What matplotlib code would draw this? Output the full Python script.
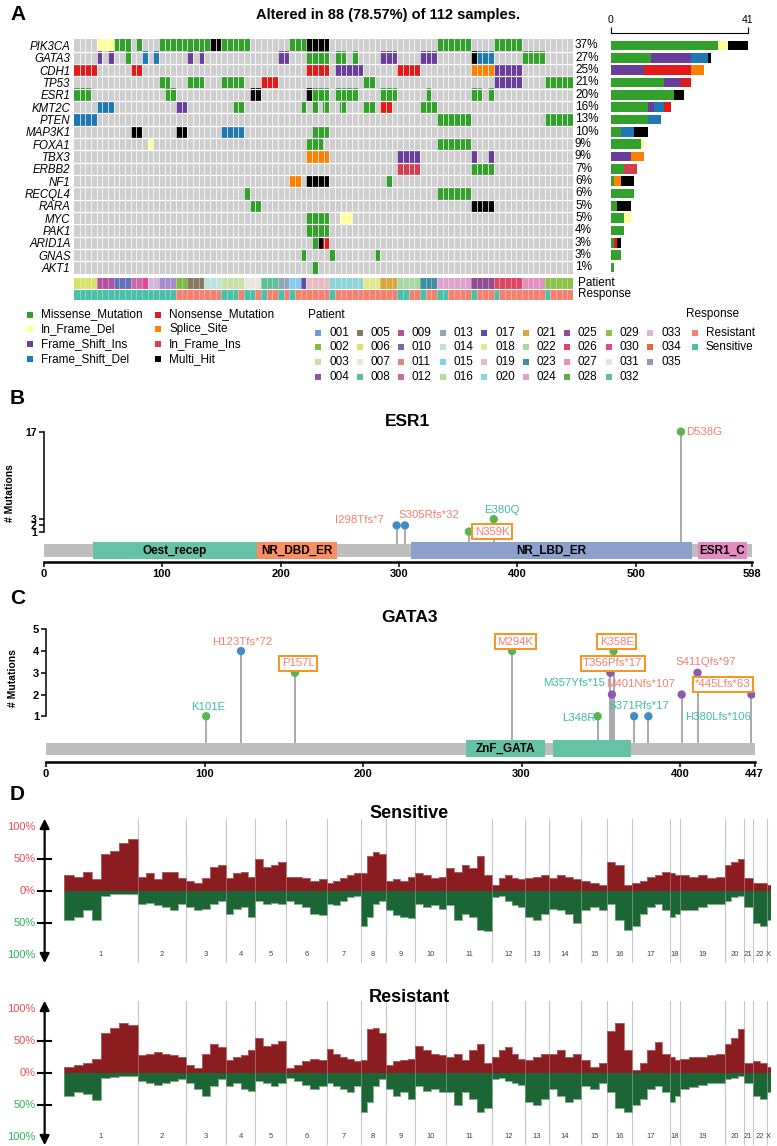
import matplotlib
matplotlib.use('Agg')
import matplotlib.pyplot as plt
import numpy as np
from matplotlib.colors import to_rgb
from matplotlib.patches import Rectangle

W, H = 777, 1146
plt.rcParams['font.family'] = ['Liberation Sans', 'DejaVu Sans']
NARROW = ['Liberation Sans Narrow', 'Liberation Sans', 'DejaVu Sans']

# ---------------- panel A: oncoplot data ----------------
genes = ['PIK3CA', 'GATA3', 'CDH1', 'TP53', 'ESR1', 'KMT2C', 'PTEN', 'MAP3K1', 'FOXA1',
         'TBX3', 'ERBB2', 'NF1', 'RECQL4', 'RARA', 'MYC', 'PAK1', 'ARID1A', 'GNAS', 'AKT1']
n_total = 112
n_altered = 88

# codes: M missense, N nonsense, d in-frame del, i in-frame ins, s splice site,
#        F frame-shift ins, f frame-shift del, H multi hit
# (first sample, last sample, code)
mut_runs = {
    'PIK3CA': [(4, 6, 'd'), (7, 9, 'M'), (11, 11, 'M'), (15, 23, 'M'), (24, 25, 'H'), (26, 30, 'M'),
               (38, 40, 'M'), (41, 44, 'H'), (64, 69, 'M'), (74, 78, 'M')],
    'GATA3': [(4, 4, 'F'), (6, 6, 'F'), (9, 9, 'M'), (12, 12, 'f'), (14, 14, 'f'), (20, 20, 'F'),
              (22, 22, 'F'), (36, 37, 'F'), (41, 44, 'M'), (46, 47, 'M'), (49, 49, 'M'), (54, 56, 'F'),
              (61, 63, 'F'), (70, 70, 'H'), (71, 73, 'f'), (79, 82, 'M')],
    'CDH1': [(0, 3, 'N'), (10, 11, 'N'), (41, 44, 'N'), (46, 50, 'F'), (57, 60, 'N'), (70, 73, 's'),
             (74, 78, 'F')],
    'TP53': [(15, 16, 'M'), (20, 22, 'M'), (26, 29, 'M'), (33, 35, 'N'), (51, 52, 'M'), (74, 78, 'F'),
             (83, 87, 'M')],
    'ESR1': [(0, 2, 'M'), (16, 17, 'M'), (31, 32, 'H'), (41, 41, 'H'), (42, 44, 'M'), (46, 49, 'M'),
             (54, 56, 'M'), (62, 62, 'M'), (70, 71, 'M'), (73, 73, 'M')],
    'KMT2C': [(4, 6, 'f'), (18, 19, 'F'), (28, 29, 'M'), (40, 40, 'M'), (42, 42, 'M'), (44, 44, 'M'),
              (47, 47, 'M'), (51, 52, 'M'), (54, 55, 'N'), (61, 63, 'M')],
    'PTEN': [(0, 3, 'f'), (64, 69, 'M'), (83, 87, 'M')],
    'MAP3K1': [(10, 11, 'H'), (18, 19, 'H'), (26, 29, 'f'), (42, 44, 'M')],
    'FOXA1': [(13, 13, 'd'), (41, 43, 'M'), (64, 69, 'M')],
    'TBX3': [(41, 44, 's'), (57, 60, 'F'), (70, 70, 'F'), (73, 73, 'F')],
    'ERBB2': [(57, 60, 'i'), (70, 73, 'M')],
    'NF1': [(38, 39, 's'), (41, 44, 'H'), (55, 55, 'M')],
    'RECQL4': [(30, 30, 'M'), (64, 69, 'M')],
    'RARA': [(31, 32, 'M'), (70, 73, 'H')],
    'MYC': [(41, 44, 'M'), (47, 48, 'd')],
    'PAK1': [(41, 44, 'M')],
    'ARID1A': [(42, 42, 'M'), (43, 43, 'H'), (44, 44, 'N')],
    'GNAS': [(40, 40, 'M'), (45, 45, 'M'), (53, 53, 'M')],
    'AKT1': [(42, 42, 'M')],
}

vc_names = {'M': 'Missense_Mutation', 'N': 'Nonsense_Mutation', 'd': 'In_Frame_Del', 's': 'Splice_Site',
            'F': 'Frame_Shift_Ins', 'i': 'In_Frame_Ins', 'f': 'Frame_Shift_Del', 'H': 'Multi_Hit'}
vc_colors = {'M': '#33A02C', 'N': '#E31A1C', 'd': '#FFFF99', 's': '#FF7F00',
             'F': '#6A3D9A', 'i': '#D53E4F', 'f': '#1F78B4', 'H': '#000000'}
bar_order = ['M', 'd', 'F', 'f', 'N', 'i', 's', 'H']
legend_order = ['M', 'd', 'F', 'f', 'N', 's', 'i', 'H']

# sample annotations: (patient, number of consecutive samples)
patient_runs = [('006', 4), ('009', 3), ('010', 3), ('012', 2), ('030', 1), ('033', 2), ('035', 3),
                ('002', 2), ('005', 3), ('014', 3), ('003', 4), ('007', 3), ('008', 3), ('013', 2),
                ('015', 2), ('017', 1), ('019', 4), ('020', 6), ('018', 3), ('021', 3), ('022', 4),
                ('023', 3), ('024', 6), ('025', 4), ('026', 5), ('027', 4), ('029', 5)]
response = ('SSSSSSSSSSSSSSSSSS' 'RRRRRRRR' 'SSS' 'R' 'SS' 'R' 'S' 'RR' 'S' 'R' 'S' 'RRRRRR' 'S'
            'RRRRRRRRRRR' 'SS' 'RR' 'S' 'RR' 'SS' 'RRRR' 'S' 'RRR' 'S' 'RRRRRRRR' 'S' 'RRRR')

patient_ids = ['%03d' % k for k in range(1, 36)]
patient_colors = ['#6C9BD2', '#7DBB42', '#CBE0A8', '#8E55A8', '#857A5E', '#D9E26A', '#E9E7D9',
                  '#5FBF9A', '#B0539F', '#6670B8', '#E38478', '#C969A9', '#93A4B6', '#BEE3DC',
                  '#89CDEE', '#B3DE8F', '#5C4CA6', '#E3E88E', '#E6BCC0', '#8FD4D9', '#D8A83C',
                  '#A9D8A2', '#3E8FA1', '#DDA3CE', '#8F4E93', '#DC4765', '#E291C1', '#5DAE4B',
                  '#8BC34A', '#E0469B', '#E4E2EF', '#5BBFA0', '#D2B7DC', '#E86A2C', '#A88BCB']
response_names = {'R': 'Resistant', 'S': 'Sensitive'}
response_colors = {'R': '#F4806F', 'S': '#4BC0A8'}

# ---------------- panel B/C: lollipop data ----------------
esr1_len = 598
esr1_domains = ['Oest_recep', 'NR_DBD_ER', 'NR_LBD_ER', 'ESR1_C']
esr1_dom_start = [42, 180, 310, 552]
esr1_dom_end = [180, 248, 547, 594]
esr1_dom_colors = ['#66C2A5', '#FC8D62', '#8DA0CB', '#E78AC3']
esr1_mut = ['I298Tfs*7', 'S305Rfs*32', 'N359K', 'E380Q', 'D538G']
esr1_pos = [298, 305, 359, 380, 538]
esr1_count = [2, 2, 1, 3, 17]
esr1_class = ['f', 'f', 'M', 'M', 'M']
esr1_resp = ['R', 'R', 'R', 'S', 'R']
esr1_boxed = [False, False, True, False, False]

gata3_len = 447
gata3_domains = ['ZnF_GATA', '']
gata3_dom_start = [265, 320]
gata3_dom_end = [315, 369]
gata3_dom_colors = ['#66C2A5', '#66C2A5']
gata3_mut = ['K101E', 'H123Tfs*72', 'P157L', 'M294K', 'L348R', 'T356Pfs*17', 'M357Yfs*15', 'K358E',
             'S371Rfs*17', 'H380Lfs*106', 'M401Nfs*107', 'S411Qfs*97', '*445Lfs*63']
gata3_pos = [101, 123, 157, 294, 348, 356, 357, 358, 371, 380, 401, 411, 445]
gata3_count = [1, 4, 3, 4, 1, 3, 2, 4, 1, 1, 2, 3, 2]
gata3_class = ['M', 'f', 'M', 'M', 'M', 'F', 'F', 'M', 'f', 'f', 'F', 'F', 'F']
gata3_resp = ['S', 'R', 'R', 'R', 'S', 'R', 'S', 'R', 'S', 'S', 'R', 'R', 'R']
gata3_boxed = [False, False, True, True, False, True, False, True, False, False, False, False, True]

# ---------------- panel D: copy number frequencies (%) ----------------
chrom_names = [str(k) for k in range(1, 23)] + ['X']
chrom_widths = [148, 97, 81, 60, 62, 82, 69, 50, 60, 63, 92, 67, 48, 66, 52, 50, 77, 20, 91, 38, 18, 29, 7]
sens_gain = [[25, 22, 30, 18, 58, 62, 75, 80], [22, 28, 18, 30, 30, 20], [15, 12, 20, 38, 40],
             [20, 28, 30, 22], [50, 38, 40, 45], [22, 22, 20, 15, 18], [12, 15, 20, 25, 28],
             [28, 55, 60, 58], [15, 18, 15, 22], [28, 25, 20, 22], [35, 30, 40, 35, 55, 25],
             [10, 20, 25, 20, 18], [20, 22, 25], [20, 25, 22, 18], [15, 12, 10], [45, 40, 10],
             [12, 15, 22, 25, 30], [28, 25], [25, 22, 25, 20, 22], [40, 45, 50], [20], [12, 12], [10]]
sens_loss = [[45, 40, 30, 45, 8, 5, 5, 5], [20, 18, 22, 25, 30, 20], [25, 30, 28, 20, 15],
             [35, 28, 25, 40], [15, 20, 18, 20], [15, 20, 25, 35, 38], [20, 22, 15, 10, 8],
             [55, 40, 20, 15], [30, 38, 40, 42], [20, 25, 22, 28], [22, 45, 35, 40, 60, 62],
             [10, 8, 15, 22, 25], [40, 45, 35], [28, 30, 35, 50], [30, 25, 30], [20, 45, 60],
             [55, 35, 25, 20, 30], [40, 35], [30, 30, 25, 20, 20], [15, 10, 8], [25], [50, 55], [45]]
res_gain = [[10, 12, 15, 22, 62, 70, 78, 75], [28, 30, 32, 30, 28, 25], [12, 8, 30, 45, 40],
            [20, 25, 28, 35], [55, 42, 45, 50], [8, 12, 18, 22, 20], [38, 30, 25, 22, 18],
            [20, 68, 70, 62], [12, 18, 20, 22], [42, 35, 30, 28], [25, 30, 20, 35, 45, 15],
            [25, 35, 40, 30, 22], [20, 25, 30], [30, 35, 25, 30], [20, 10, 15], [65, 78, 35],
            [5, 15, 35, 48, 30], [25, 20], [22, 25, 25, 28, 30], [45, 55, 68], [15], [18, 15], [10]]
res_loss = [[35, 30, 32, 42, 8, 6, 5, 5], [12, 15, 18, 15, 12, 10], [15, 25, 35, 20, 10],
            [20, 15, 25, 28], [12, 15, 20, 15], [8, 12, 18, 25, 20], [15, 20, 25, 30, 20],
            [60, 45, 20, 10], [25, 35, 30, 40], [20, 28, 25, 30], [30, 50, 30, 40, 60, 55],
            [10, 8, 12, 15, 18], [45, 50, 40], [25, 35, 45, 40], [20, 25, 15], [30, 55, 60],
            [50, 40, 25, 20, 30], [45, 35], [25, 22, 18, 15, 15], [10, 8, 5], [15], [35, 40], [30]]


def rect(x0, y0, x1, y1):
    return [x0 / W, 1 - y1 / H, (x1 - x0) / W, (y1 - y0) / H]


fig = plt.figure(figsize=(W / 100, H / 100), dpi=100)
ov = fig.add_axes([0, 0, 1, 1], zorder=10)
ov.set_xlim(0, W)
ov.set_ylim(H, 0)
ov.axis('off')

# ================= panel A =================
n_genes = len(genes)
n_cols = len(response)
mat = np.full((n_genes, n_cols), '.', dtype='<U1')
for g, runs in mut_runs.items():
    for a, b, c in runs:
        mat[genes.index(g), a:b + 1] = c
bg = to_rgb('#CFCFCF')
rgb = np.array([[to_rgb(vc_colors[c]) if c != '.' else bg for c in row] for row in mat])

ax = fig.add_axes(rect(74, 39.3, 573, 273.6))
ax.imshow(rgb, aspect='auto', interpolation='nearest',
          extent=(-0.5, n_cols - 0.5, n_genes - 0.5, -0.5))
for x in np.arange(0.5, n_cols - 0.5, 1):
    ax.axvline(x, color='white', lw=0.5)
for y in np.arange(0.5, n_genes - 0.5, 1):
    ax.axhline(y, color='white', lw=0.9)
ax.set_xticks([])
ax.set_yticks(range(n_genes))
ax.set_yticklabels(genes, style='italic', fontsize=8.3)
ax.tick_params(axis='y', length=0, pad=2.5)
for s in ax.spines.values():
    s.set_visible(False)

counts = {g: {c: int(np.sum(mat[i] == c)) for c in bar_order} for i, g in enumerate(genes)}
for i, g in enumerate(genes):
    tot = sum(counts[g].values())
    ax.text(1.004, i, '%d%%' % round(100 * tot / n_total), transform=ax.get_yaxis_transform(),
            va='center', ha='left', fontsize=8.5)

# stacked bars
axb = fig.add_axes(rect(610.7, 33, 748, 273.6))
max_n = max(sum(counts[g].values()) for g in genes)
for i, g in enumerate(genes):
    left = 0
    for c in bar_order:
        n = counts[g][c]
        if n:
            axb.barh(i, n, left=left, height=0.8, color=vc_colors[c], lw=0)
            left += n
axb.set_xlim(0, max_n)
axb.set_ylim(n_genes - 0.5, -0.5 - 6.3 / 12.33)
axb.xaxis.tick_top()
axb.set_xticks([0, max_n])
axb.tick_params(axis='x', length=4, width=0.8, labelsize=7.5, pad=1.5)
axb.set_yticks([])
for k in ['left', 'right', 'bottom']:
    axb.spines[k].set_visible(False)
axb.spines['top'].set_linewidth(0.8)
axb.patch.set_alpha(0)

# annotation rows
pat_seq = [p for p, n in patient_runs for _ in range(n)]
ann = np.array([[to_rgb(patient_colors[patient_ids.index(p)]) for p in pat_seq],
                [to_rgb(response_colors[r]) for r in response]])
axa = fig.add_axes(rect(74, 278, 573, 300))
axa.imshow(ann, aspect='auto', interpolation='nearest', extent=(-0.5, n_cols - 0.5, 1.5, -0.5))
for x in np.arange(0.5, n_cols - 0.5, 1):
    axa.axvline(x, color='white', lw=0.4, alpha=0.6)
axa.axhline(0.5, color='white', lw=0.8)
axa.axis('off')
for r, name in enumerate(['Patient', 'Response']):
    axa.text(1.01, r, name, transform=axa.get_yaxis_transform(), va='center', ha='left', fontsize=8.5)

ov.text(10, 14, 'A', fontsize=15, fontweight='bold', va='center', ha='left')
ov.text(388, 15, 'Altered in %d (%.2f%%) of %d samples.' % (n_altered, 100 * n_altered / n_total, n_total),
        fontsize=10.5, fontweight='bold', ha='center', va='center')

# legends
for k, c in enumerate(legend_order):
    lx = 30 if k < 4 else 158
    ly = 314.5 + 14.7 * (k % 4)
    ov.scatter(lx, ly, marker='s', s=14, color=vc_colors[c], lw=0)
    ov.text(lx + 11, ly, vc_names[c], fontsize=8.5, va='center', ha='left')

ov.text(308, 314.5, 'Patient', fontsize=8.5, va='center', ha='left')
for k, (p, c) in enumerate(zip(patient_ids, patient_colors)):
    lx = 318 + 41.5 * (k // 4)
    ly = 332.5 + 14.8 * (k % 4)
    ov.scatter(lx, ly, marker='s', s=14, color=c, lw=0)
    ov.text(lx + 11, ly, p, fontsize=8.5, va='center', ha='left')

ov.text(686, 314.5, 'Response', fontsize=8.5, va='center', ha='left')
for k, r in enumerate(['R', 'S']):
    ly = 332.5 + 14.8 * k
    ov.scatter(695, ly, marker='s', s=14, color=response_colors[r], lw=0)
    ov.text(706, ly, response_names[r], fontsize=8.5, va='center', ha='left')

# ================= panels B / C =================
head_colors = {'M': '#55B54F', 'f': '#3F8CC9', 'F': '#8C59AE'}
label_colors = {'R': '#F4806F', 'S': '#3EBFA5'}


def lollipop(ax, length, doms, d0, d1, dcols, grey_band, dom_band, muts, pos, cnt, cls, resp,
             boxed, label_xy, yticks, xticks):
    ax.add_patch(Rectangle((0, grey_band[0]), length, grey_band[1] - grey_band[0],
                           color='#BEBEBE', lw=0, zorder=1))
    for name, a, b, c in zip(doms, d0, d1, dcols):
        ax.add_patch(Rectangle((a, dom_band[0]), b - a, dom_band[1] - dom_band[0],
                               color=c, lw=0, zorder=2))
        if name:
            ax.text((a + b) / 2, sum(dom_band) / 2, name, ha='center', va='center', fontsize=8.5,
                    fontweight='bold', family=NARROW, zorder=3)
    ax.vlines(pos, grey_band[1], cnt, color='#A9A9A9', lw=1.4, zorder=1)
    ax.scatter(pos, cnt, s=36, c=[head_colors[c] for c in cls], zorder=4, lw=0)
    for m, r, bx, (tx, ty) in zip(muts, resp, boxed, label_xy):
        kw = {}
        if bx:
            kw['bbox'] = dict(boxstyle='square,pad=0.22', fc='white', ec='#F7941D', lw=1.4)
        ax.text(tx, ty, m, ha='center', va='center', fontsize=8.2, color=label_colors[r],
                family=NARROW, zorder=5, **kw)
    ax.set_xlim(0, length)
    for k in ['top', 'right']:
        ax.spines[k].set_visible(False)
    ax.spines['left'].set_bounds(min(yticks), max(yticks))
    ax.spines['bottom'].set_bounds(0, length)
    ax.spines['bottom'].set_linewidth(1.8)
    ax.spines['left'].set_linewidth(1.1)
    ax.set_yticks(yticks)
    ax.set_xticks(xticks)
    ax.tick_params(axis='both', labelsize=8, width=1.1, length=3.5, pad=1.5)
    for t in ax.get_xticklabels() + ax.get_yticklabels():
        t.set_fontweight('bold')
        t.set_family(NARROW)
    ax.set_ylabel('# Mutations', fontsize=7.5, fontweight='bold', family=NARROW, labelpad=3)
    ax.patch.set_alpha(0)


esr1_label_xy = [(267, 2.87), (325, 3.67), (378.5, 1.0), (386.5, 4.47), (558, 17)]
axe = fig.add_axes(rect(43.6, 425.4, 752, 561.7))
axe.set_ylim(-3.81, 18)
lollipop(axe, esr1_len, esr1_domains, esr1_dom_start, esr1_dom_end, esr1_dom_colors,
         (-2.99, -0.97), (-3.43, -0.65), esr1_mut, esr1_pos, esr1_count, esr1_class, esr1_resp,
         esr1_boxed, esr1_label_xy, [1, 2, 3, 17], [0, 100, 200, 300, 400, 500, 598])
axe.yaxis.set_label_coords(-0.04, 0.5)
for t in axe.get_yticklabels():
    t.set_fontsize(7.5)

gata3_label_xy = [(102, 1.41), (124, 4.43), (159, 3.44), (296, 4.43), (336, 0.91), (357.6, 3.44),
                  (333, 2.52), (360, 4.43), (374, 1.48), (424, 0.95), (375, 2.47), (416, 3.48),
                  (427, 2.47)]
axg = fig.add_axes(rect(46, 622.8, 754.6, 761.7))
axg.set_ylim(-1.09, 5.3)
lollipop(axg, gata3_len, gata3_domains, gata3_dom_start, gata3_dom_end, gata3_dom_colors,
         (-0.78, -0.21), (-0.89, -0.09), gata3_mut, gata3_pos, gata3_count, gata3_class, gata3_resp,
         gata3_boxed, gata3_label_xy, [1, 2, 3, 4, 5], [0, 100, 200, 300, 400, 447])
axg.yaxis.set_label_coords(-0.04, 0.6)

ov.text(10, 398, 'B', fontsize=15, fontweight='bold', va='center', ha='left')
ov.text(407, 421, 'ESR1', fontsize=12.5, fontweight='bold', ha='center', va='center', family=NARROW)
ov.text(10, 598, 'C', fontsize=15, fontweight='bold', va='center', ha='left')
ov.text(409, 617, 'GATA3', fontsize=12.5, fontweight='bold', ha='center', va='center', family=NARROW)

# ================= panel D =================
gain_col = '#8B1C1F'
loss_col = '#1B6634'
bounds = np.concatenate([[0], np.cumsum(chrom_widths)])


def cn_panel(ax, gain, loss):
    for c in range(len(chrom_names)):
        e = np.linspace(bounds[c], bounds[c + 1], len(gain[c]) + 1)
        ax.stairs(gain[c], e, baseline=0, fill=True, color=gain_col, lw=0)
        ax.stairs(gain[c], e, baseline=0, fill=False, color='#B4676A', lw=0.6)
        e = np.linspace(bounds[c], bounds[c + 1], len(loss[c]) + 1)
        ax.stairs(-np.array(loss[c]), e, baseline=0, fill=True, color=loss_col, lw=0)
        ax.stairs(-np.array(loss[c]), e, baseline=0, fill=False, color='#6F9C7C', lw=0.6)
        ax.text((bounds[c] + bounds[c + 1]) / 2, -99, chrom_names[c], fontsize=5.5, color='#444444',
                ha='center', va='center', family=NARROW)
    for b in bounds[1:-1]:
        ax.axvline(b, color='#C8C8C8', lw=0.8, zorder=0)
    ax.set_xlim(0, bounds[-1])
    ax.set_ylim(-112, 112)
    ax.axis('off')
    tr = ax.get_yaxis_transform()
    ax.annotate('', xy=(-0.028, 112), xytext=(-0.028, -112), xycoords=tr, textcoords=tr,
                arrowprops=dict(arrowstyle='<|-|>', color='black', lw=1.6, mutation_scale=14,
                                shrinkA=0, shrinkB=0), annotation_clip=False)
    for v in [50, 0, -50]:
        ax.plot([-0.037, -0.019], [v, v], color='black', lw=1.5, transform=tr, clip_on=False)
    for v, lab, col in [(100, '100%', '#EE4B55'), (50, '50%', '#EE4B55'), (0, '0%', '#EE4B55'),
                        (-50, '50%', '#2DB35A'), (-100, '100%', '#2DB35A')]:
        ax.text(-0.041, v, lab, transform=tr, color=col, fontsize=8, ha='right', va='center',
                family=NARROW)


axs = fig.add_axes(rect(64.4, 818.8, 770.5, 963.2))
cn_panel(axs, sens_gain, sens_loss)
axr = fig.add_axes(rect(64.4, 1000.8, 770.5, 1145.2))
cn_panel(axr, res_gain, res_loss)

ov.text(10, 795, 'D', fontsize=15, fontweight='bold', va='center', ha='left')
ov.text(409, 813, 'Sensitive', fontsize=13, fontweight='bold', ha='center', va='center', family=NARROW)
ov.text(409, 997, 'Resistant', fontsize=13, fontweight='bold', ha='center', va='center', family=NARROW)

fig.savefig('out.png', dpi=100)
plt.close(fig)
